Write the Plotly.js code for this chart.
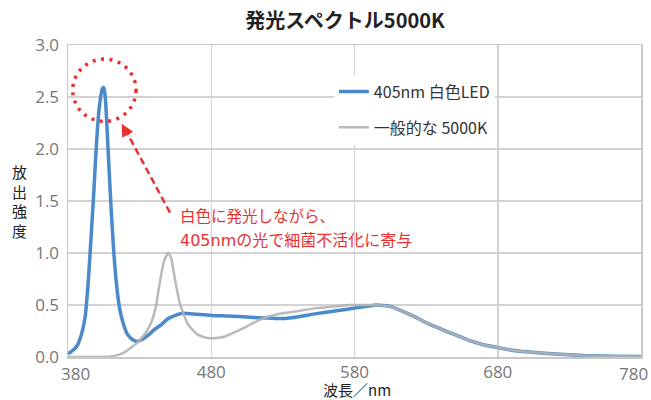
<!DOCTYPE html>
<html>
<head>
<meta charset="utf-8">
<script src="https://cdn.plot.ly/plotly-3.0.1.min.js"></script>
<style>html,body{margin:0;padding:0;background:#fff;}#chart{width:651px;height:400px;}</style>
</head>
<body>
<div id="chart"></div>
<script>
// Wavelengths (nm) and relative emission for the 405nm white LED
const ledWavelength = [380,383,386,389,392,394,396,398,400,402,404,405,406,408,410,412,414,416,418,421,424,428,432,436,440,445,450,455,460,470,480,490,500,510,520,530,540,550,560,570,580,590,595,600,605,610,620,630,640,650,660,670,680,690,700,720,740,760,780];
const ledIntensity  = [0.03,0.06,0.10,0.20,0.39,0.70,1.13,1.58,2.08,2.42,2.58,2.59,2.50,1.99,1.45,1.00,0.68,0.47,0.35,0.23,0.18,0.15,0.17,0.21,0.26,0.31,0.37,0.40,0.42,0.41,0.40,0.395,0.39,0.38,0.375,0.37,0.385,0.41,0.43,0.45,0.47,0.49,0.50,0.495,0.487,0.46,0.40,0.33,0.27,0.215,0.16,0.118,0.09,0.065,0.05,0.03,0.015,0.008,0.005];

// Wavelengths (nm) and relative emission for a typical 5000K white light
const stdWavelength = [380,400,410,415,420,425,430,435,438,441,444,447,450,452,455,458,461,464,467,470,475,480,485,490,495,500,507,514,520,530,540,553,565,577,590,600,605,610,620,630,640,650,660,670,680,690,700,720,740,760,780];
const stdIntensity  = [0,0,0.005,0.02,0.05,0.10,0.16,0.25,0.33,0.46,0.71,0.92,1.00,0.95,0.72,0.52,0.40,0.31,0.26,0.22,0.19,0.18,0.185,0.20,0.23,0.26,0.31,0.36,0.39,0.42,0.44,0.47,0.485,0.50,0.50,0.495,0.487,0.46,0.40,0.33,0.27,0.215,0.16,0.118,0.09,0.065,0.05,0.03,0.015,0.008,0.005];

const xTicks = [380,480,580,680,780];
const yTicks = [0,0.5,1.0,1.5,2.0,2.5,3.0];
const seriesNames = ['405nm 白色LED','一般的な 5000K'];
const xTitle = '波長／nm';
const yTitle = '放出強度';

const jp = '"Noto Sans CJK JP", "Noto Sans", sans-serif';
const num = '"Open Sans", "Noto Sans", sans-serif';
const red = '#e8312f';
const tickFont = {family: num, size: 17, color: '#777'};

const traces = [
  {x: ledWavelength, y: ledIntensity, name: seriesNames[0], type: 'scatter', mode: 'lines',
   line: {color: '#4a8acb', width: 3.5, shape: 'spline', smoothing: 0.6}, legendgroup: 'a'},
  {x: stdWavelength, y: stdIntensity, name: seriesNames[1], type: 'scatter', mode: 'lines',
   line: {color: '#b3b3b3', width: 2.5, shape: 'spline', smoothing: 0.6}, opacity: 0.9, legendgroup: 'b'}
];

// end tick labels drawn as annotations so the last one is not clipped at the page edge
const endTickAnnotations = [
  {xref: 'paper', yref: 'paper', x: 7 / 573, y: 0, yshift: -16, xanchor: 'center', yanchor: 'middle',
   text: String(xTicks[0]), showarrow: false, font: tickFont},
  {xref: 'paper', yref: 'paper', x: 1, xshift: -8, y: 0, yshift: -16, xanchor: 'center', yanchor: 'middle',
   text: String(xTicks[xTicks.length - 1]), showarrow: false, font: tickFont}
];

const layout = {
  width: 651, height: 400,
  margin: {l: 68, r: 10, t: 45, b: 43},
  paper_bgcolor: '#fff', plot_bgcolor: '#fff',
  title: {text: '<b>発光スペクトル5000K</b>', font: {family: jp, size: 20, color: '#222'},
          x: 0.53, xanchor: 'center', y: 0.948, yanchor: 'middle'},
  showlegend: true,
  legend: {x: 0.464, y: 0.905, xanchor: 'left', yanchor: 'top', bgcolor: '#fff',
           font: {family: jp, size: 16, color: '#333'}, tracegroupgap: 12,
           traceorder: 'grouped'},
  xaxis: {range: [380, 780], tickvals: xTicks,
          ticktext: xTicks.map((v, i) => (i === 0 || i === xTicks.length - 1) ? '' : String(v)),
          showgrid: true, gridcolor: '#d2d2d2', gridwidth: 1.5,
          showline: true, linecolor: '#c8c8c8', linewidth: 1.5, mirror: true,
          zeroline: false, ticks: '', ticklabelstandoff: -1, tickfont: tickFont},
  yaxis: {range: [0, 3], tickvals: yTicks, ticktext: yTicks.map(v => v.toFixed(1)),
          showgrid: true, gridcolor: '#d2d2d2', gridwidth: 1.5,
          showline: true, linecolor: '#c8c8c8', linewidth: 1.5, mirror: true,
          zeroline: false, ticks: '', ticklabelstandoff: 4, tickfont: tickFont},
  shapes: [
    {type: 'circle', xref: 'x', yref: 'y', x0: 383.3, x1: 427.5, y0: 2.265, y1: 2.865,
     line: {color: red, width: 3.5, dash: '3px,5.5px'}},
    {type: 'line', xref: 'x', yref: 'y', x0: 451.2, y0: 1.388, x1: 419.5, y1: 2.2,
     line: {color: red, width: 2.5, dash: '7px,4px'}}
  ],
  annotations: [
    {xref: 'paper', yref: 'paper', x: -0.085, y: 0.5, xanchor: 'center', yanchor: 'middle',
     text: yTitle.split('').join('<br>'), showarrow: false, font: {family: jp, size: 15, color: '#222'}},
    {xref: 'paper', yref: 'paper', x: 0.504, y: 0, yshift: -32, xanchor: 'center', yanchor: 'middle',
     text: xTitle, showarrow: false, font: {family: jp, size: 15, color: '#222'}},
    {xref: 'x', yref: 'y', x: 417.5, y: 2.243, ax: 6, ay: 11, text: '', showarrow: true,
     arrowhead: 2, arrowsize: 1, arrowwidth: 2.5, arrowcolor: red},
    {xref: 'x', yref: 'y', x: 456.8, y: 1.37, xanchor: 'left', yanchor: 'middle',
     text: '白色に発光しながら、', showarrow: false, font: {family: jp, size: 15.5, color: red}},
    {xref: 'x', yref: 'y', x: 456.8, y: 1.135, xanchor: 'left', yanchor: 'middle',
     text: '<span style="font-family:\'DejaVu Sans\'">405nm</span>の光で細菌不活化に寄与',
     showarrow: false, font: {family: jp, size: 16, color: red}}
  ].concat(endTickAnnotations)
};

Plotly.newPlot('chart', traces, layout, {displayModeBar: false, staticPlot: true});
</script>
</body>
</html>
